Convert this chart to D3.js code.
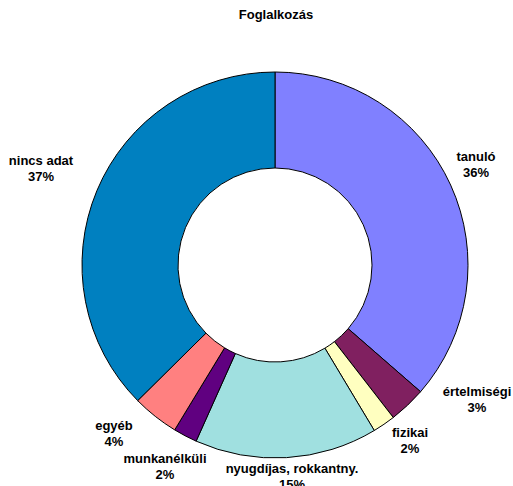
<!DOCTYPE html>
<html><head><meta charset="utf-8">
<script src="https://cdn.jsdelivr.net/npm/d3@7/dist/d3.min.js"></script>
<style>body{margin:0;background:#fff}svg{display:block}text{font-family:Arial,"Liberation Sans",sans-serif;font-weight:bold;font-size:13px;fill:#000}</style>
</head><body><div id="chart"></div>
<script>
const categories = ["tanuló","értelmiségi","fizikai","nyugdíjas, rokkantny.","munkanélküli","egyéb","nincs adat"];
const values = [36.4, 3.1, 1.9, 15.3, 2.0, 3.9, 37.4];
const percentLabels = ["36%","3%","2%","15%","2%","4%","37%"];
const colors = ["#8080FF","#802060","#FFFFC0","#A0E0E0","#600080","#FF8080","#0080C0"];
const title = "Foglalkozás";

// layout (label centres, first line baseline)
const labelPos = [[476,161],[477,396],[410,437],[292,473],[165,463],[114,430],[41,165]];

const W=513,H=486, cx=275, cy=265, R=193, r0=97;
const svg=d3.select("#chart").append("svg").attr("width",W).attr("height",H);
svg.append("text").attr("x",276).attr("y",19).attr("text-anchor","middle").text(title);
const pie=d3.pie().sort(null).value(d=>d)(values);
const arc=d3.arc().innerRadius(r0).outerRadius(R);
const g=svg.append("g").attr("transform",`translate(${cx},${cy})`);
g.selectAll("path").data(pie).join("path").attr("d",arc)
 .attr("fill",(d,i)=>colors[i]).attr("stroke","#000").attr("stroke-width",1);
const lab=svg.append("g");
categories.forEach((c,i)=>{
  const t=lab.append("text").attr("text-anchor","middle").attr("x",labelPos[i][0]).attr("y",labelPos[i][1]);
  t.append("tspan").attr("x",labelPos[i][0]).text(c);
  t.append("tspan").attr("x",labelPos[i][0]).attr("dy",16).text(percentLabels[i]);
});
</script></body></html>
